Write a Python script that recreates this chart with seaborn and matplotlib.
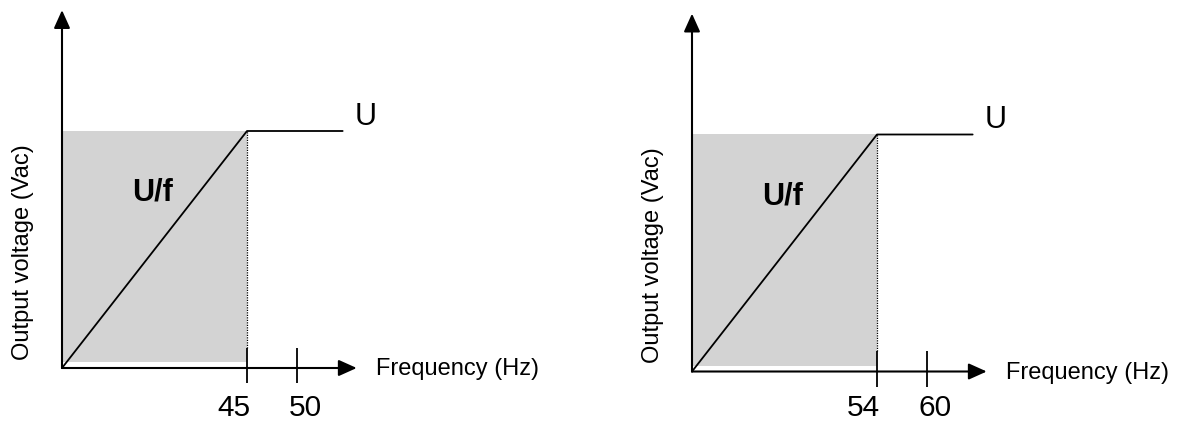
import matplotlib
matplotlib.use("Agg")
import matplotlib.pyplot as plt
import seaborn as sns

sns.set_style("white")
plt.rcParams['font.family'] = ['Liberation Sans', 'DejaVu Sans']
plt.rcParams['text.color'] = 'black'

# schematic U/f curve, frequency in units of the corner frequency, voltage in units of U
curve_x = [0.0, 1.0, 1.517]
curve_y = [0.0, 1.0, 1.0]
tick_pos = [1.0, 1.269]
tick_labels_50hz = ["45", "50"]
tick_labels_60hz = ["54", "60"]
x_arrow_end = 1.593
y_arrow_end = 1.51
shade_bottom = 0.025

W, H = 1184, 423
fig = plt.figure(figsize=(W / 100, H / 100), dpi=100)

# pixels per unit
sx, sy = 185, 237
x0, x1 = -0.3, 1.7
y0, y1 = -0.2, 1.55


def make_ax(ox, oy):
    rect = [(ox + x0 * sx) / W, (H - (oy - y0 * sy)) / H,
            (x1 - x0) * sx / W, (y1 - y0) * sy / H]
    ax = fig.add_axes(rect)
    ax.set_xlim(x0, x1)
    ax.set_ylim(y0, y1)
    ax.axis('off')
    return ax


def draw_panel(ax, labels, lab_dy):
    # grey U/f zone
    ax.fill_between([0, tick_pos[0]], shade_bottom, 1.0, color='#d3d3d3', lw=0)
    # dotted line at the corner frequency
    ax.vlines(tick_pos[0], 0.085, 1.0, color='black', lw=0.9, linestyles=(0, (1, 1)))
    # characteristic
    sns.lineplot(x=curve_x, y=curve_y, ax=ax, color='black', lw=1.3,
                 estimator=None, sort=False)
    # axes with arrows
    arr = dict(arrowstyle='-|>,head_length=1.0,head_width=0.45', color='black',
               lw=1.5, shrinkA=0, shrinkB=0, mutation_scale=11)
    ax.annotate("", xy=(0, y_arrow_end), xytext=(0, 0), arrowprops=arr)
    ax.annotate("", xy=(x_arrow_end, 0), xytext=(0, 0), arrowprops=arr)
    # ticks
    ax.vlines(tick_pos, -0.065, 0.085, color='black', lw=1.3)
    ax.annotate(labels[0], xy=(tick_pos[0], 0), xytext=(-9.5, lab_dy),
                textcoords='offset points', ha='center', va='center', fontsize=21.5)
    ax.annotate(labels[1], xy=(tick_pos[1], 0), xytext=(6, lab_dy),
                textcoords='offset points', ha='center', va='center', fontsize=21.5)
    # labels
    ax.text(1.64, 1.06, "U", ha='center', va='center', fontsize=22)
    ax.text(0.49, 0.74, "U/f", ha='center', va='center', fontsize=22, fontweight='bold')
    ax.text(1.697, -0.005, "Frequency (Hz)", ha='left', va='center', fontsize=17)
    ax.text(-0.21, 0.49, "Output voltage (Vac)", ha='center', va='center',
            rotation=90, fontsize=17)


ax1 = make_ax(62, 368)
draw_panel(ax1, tick_labels_50hz, -29)
ax2 = make_ax(692, 371.5)
draw_panel(ax2, tick_labels_60hz, -26.5)

fig.savefig("out.png", dpi=100)
